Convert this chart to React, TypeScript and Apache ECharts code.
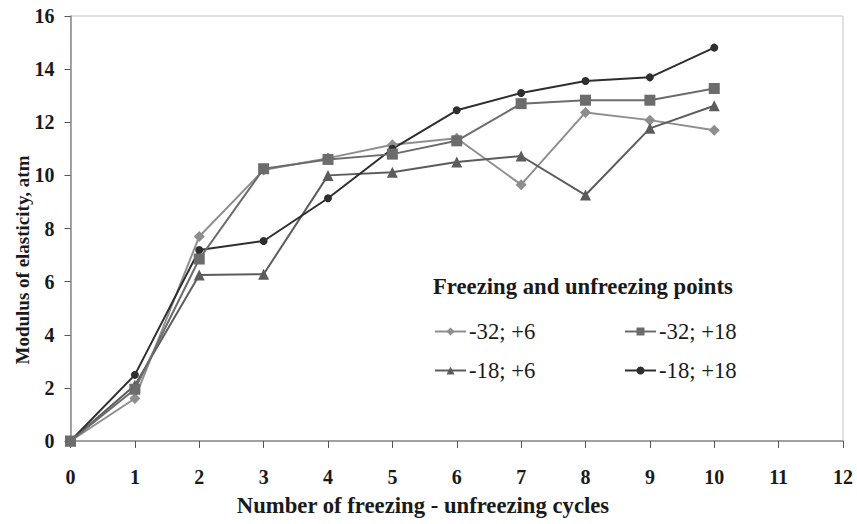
import React, { useEffect, useRef } from "react";
import * as echarts from "echarts";

const cycles = ["0", "1", "2", "3", "4", "5", "6", "7", "8", "9", "10"];
const s32p6 = [0, 1.6, 7.7, 10.2, 10.65, 11.15, 11.4, 9.65, 12.37, 12.08, 11.7];
const s32p18 = [0, 1.95, 6.85, 10.25, 10.6, 10.8, 11.3, 12.7, 12.83, 12.83, 13.27];
const s18p6 = [0, 2.1, 6.25, 6.28, 10.0, 10.12, 10.5, 10.73, 9.26, 11.77, 12.62];
const s18p18 = [0, 2.49, 7.19, 7.53, 9.14, 11.0, 12.45, 13.1, 13.55, 13.69, 14.81];

const FONT = "Liberation Serif";

export default function App() {
  const ref = useRef<HTMLDivElement>(null);
  useEffect(() => {
    if (!ref.current) return;
    const chart = echarts.init(ref.current, undefined, { renderer: "svg" });
    const mk = (name: string, data: number[], color: string, symbol: string, size: number) => ({
      name,
      type: "line",
      data: data.map((v, i) => [Number(cycles[i]), v]),
      symbol,
      symbolSize: size,
      itemStyle: { color },
      lineStyle: { color, width: 2 },
      z: 3,
    });
    chart.setOption({
      animation: false,
      backgroundColor: "#fff",
      textStyle: { fontFamily: FONT },
      grid: {
        left: 70.5,
        right: 14,
        top: 16,
        bottom: 83,
        show: true,
        borderColor: "#c4c4c4",
        borderWidth: 1,
        outerBoundsMode: "none",
        containLabel: false,
      },
      xAxis: {
        type: "value",
        min: 0,
        max: 12,
        interval: 1,
        axisLine: { lineStyle: { color: "#8a8a8a", width: 1.5 } },
        axisTick: { show: true, length: 7, inside: false, lineStyle: { color: "#555" } },
        axisLabel: { fontFamily: FONT, fontWeight: "bold", fontSize: 20, color: "#1a1a1a", margin: 26 },
        splitLine: { show: false },
      },
      yAxis: {
        type: "value",
        min: 0,
        max: 16,
        interval: 2,
        axisLine: { show: true, lineStyle: { color: "#8a8a8a", width: 1.5 } },
        axisTick: { show: true, length: 6, lineStyle: { color: "#555" } },
        axisLabel: { fontFamily: FONT, fontWeight: "bold", fontSize: 20, color: "#1a1a1a", margin: 16 },
        splitLine: { show: false },
      },
      graphic: [
        {
          type: "text",
          x: 423,
          y: 505,
          style: {
            text: "Number of freezing - unfreezing cycles",
            fontFamily: FONT,
            fontWeight: "bold",
            fontSize: 22.7,
            fill: "#1a1a1a",
            align: "center",
            verticalAlign: "middle",
          },
        },
        {
          type: "text",
          x: 22,
          y: 260,
          rotation: Math.PI / 2,
          style: {
            text: "Modulus of elasticity, atm",
            fontFamily: FONT,
            fontWeight: "bold",
            fontSize: 19,
            fill: "#1a1a1a",
            align: "center",
            verticalAlign: "middle",
          },
        },
        {
          type: "text",
          x: 433,
          y: 286,
          style: {
            text: "Freezing and unfreezing points",
            fontFamily: FONT,
            fontWeight: "bold",
            fontSize: 22.7,
            fill: "#1a1a1a",
            verticalAlign: "middle",
          },
        },
      ],
      legend: [
        {
          left: 429,
          top: 315,
          orient: "vertical",
          itemGap: 16,
          itemWidth: 31,
          itemHeight: 10,
          data: ["-32; +6", "-18; +6"],
          textStyle: { fontFamily: FONT, fontSize: 22.7, color: "#1a1a1a", padding: [0, 0, 0, -2] },
        },
        {
          left: 619,
          top: 315,
          orient: "vertical",
          itemGap: 16,
          itemWidth: 31,
          itemHeight: 10,
          data: ["-32; +18", "-18; +18"],
          textStyle: { fontFamily: FONT, fontSize: 22.7, color: "#1a1a1a", padding: [0, 0, 0, -2] },
        },
      ],
      series: [
        mk("-32; +6", s32p6, "#8e8e8e", "diamond", 11),
        mk("-18; +6", s18p6, "#5c5c5c", "triangle", 11),
        mk("-18; +18", s18p18, "#2e2e2e", "circle", 8),
        mk("-32; +18", s32p18, "#6c6c6c", "rect", 11),
      ],
    });
    return () => chart.dispose();
  }, []);
  return <div ref={ref} style={{ width: 857, height: 524, position: "absolute", left: 0, top: 0 }} />;
}
